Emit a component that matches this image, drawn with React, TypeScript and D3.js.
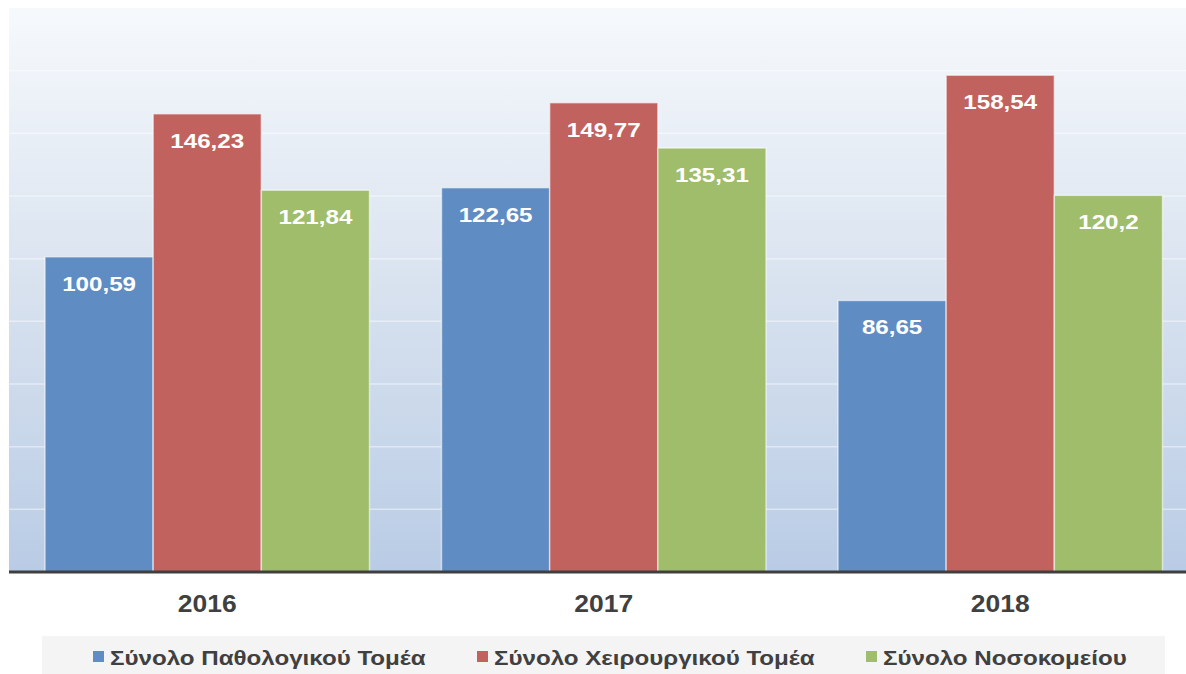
import React from "react";
import * as d3 from "d3";

const categories = ["2016", "2017", "2018"];
const seriesNames = ["Σύνολο Παθολογικού Τομέα", "Σύνολο Χειρουργικού Τομέα", "Σύνολο Νοσοκομείου"];
const pathologyValues = [100.59, 122.65, 86.65];
const surgeryValues = [146.23, 149.77, 158.54];
const hospitalValues = [121.84, 135.31, 120.2];
const valueLabels = [
  ["100,59", "122,65", "86,65"],
  ["146,23", "149,77", "158,54"],
  ["121,84", "135,31", "120,2"],
];
const gridTicks = [20, 40, 60, 80, 100, 120, 140, 160];
const colors = ["#5f8cc3", "#c1625f", "#9fbd6b"];

const W = 1186;
const H = 674;
const FONT = "'Liberation Sans', Arial, sans-serif";
const SX = 1.15;

export default function App() {
  const series = [pathologyValues, surgeryValues, hospitalValues];
  const plotLeft = 9;
  const plotRight = 1198.5;
  const plotTop = 8;
  const baseY = 572;

  const x0 = d3.scaleBand<string>().domain(categories).range([plotLeft, plotRight]).padding(0);
  const bw = x0.bandwidth();
  const x1 = d3
    .scaleBand<number>()
    .domain([0, 1, 2])
    .range([36, bw - 36])
    .padding(0);
  const y = d3.scaleLinear().domain([0, 180]).range([baseY, plotTop]);

  const legendX = [93, 477, 866];

  return (
    <svg
      width={W}
      height={H}
      style={{ position: "absolute", left: 0, top: 0, background: "#fff" }}
      fontFamily={FONT}
    >
      <defs>
        <linearGradient id="bg" x1="0" y1="0" x2="0" y2="1">
          <stop offset="0" stopColor="#f6f9fc" />
          <stop offset="0.5" stopColor="#d8e2ef" />
          <stop offset="1" stopColor="#b9cce5" />
        </linearGradient>
      </defs>
      <rect x={plotLeft} y={plotTop} width={plotRight - plotLeft} height={baseY - plotTop} fill="url(#bg)" />
      {gridTicks.map((t) => (
        <line
          key={t}
          x1={plotLeft}
          x2={plotRight}
          y1={y(t)}
          y2={y(t)}
          stroke="#ffffff"
          strokeOpacity={0.45}
          strokeWidth={1.5}
        />
      ))}
      {categories.map((c, ci) => (
        <g key={c} transform={`translate(${x0(c)},0)`}>
          {series.map((vals, si) => {
            const bx = x1(si)!;
            const by = y(vals[ci]);
            return (
              <g key={si}>
                <rect
                  x={bx}
                  y={by}
                  width={x1.bandwidth()}
                  height={baseY - by}
                  fill={colors[si]}
                  stroke="#ffffff"
                  strokeOpacity={0.55}
                  strokeWidth={1.5}
                />
                <text
                  transform={`translate(${bx + x1.bandwidth() / 2},${by + 34}) scale(${SX},1)`}
                  textAnchor="middle"
                  fill="#ffffff"
                  fontWeight="bold"
                  fontSize={21}
                >
                  {valueLabels[si][ci]}
                </text>
              </g>
            );
          })}
          <text
            transform={`translate(${bw / 2},611.5) scale(${SX},1)`}
            textAnchor="middle"
            fill="#404040"
            fontWeight="bold"
            fontSize={23}
          >
            {c}
          </text>
        </g>
      ))}
      <line x1={plotLeft} x2={W} y1={baseY} y2={baseY} stroke="#3f3f3f" strokeWidth={3} />
      <rect x={42} y={636} width={1123} height={40} fill="#f4f4f4" />
      {seriesNames.map((n, i) => (
        <g key={n}>
          <rect x={legendX[i]} y={651} width={11} height={11} fill={colors[i]} />
          <text
            transform={`translate(${legendX[i] + 17},665) scale(${SX},1)`}
            fill="#404040"
            fontWeight="bold"
            fontSize={21}
          >
            {n}
          </text>
        </g>
      ))}
    </svg>
  );
}
